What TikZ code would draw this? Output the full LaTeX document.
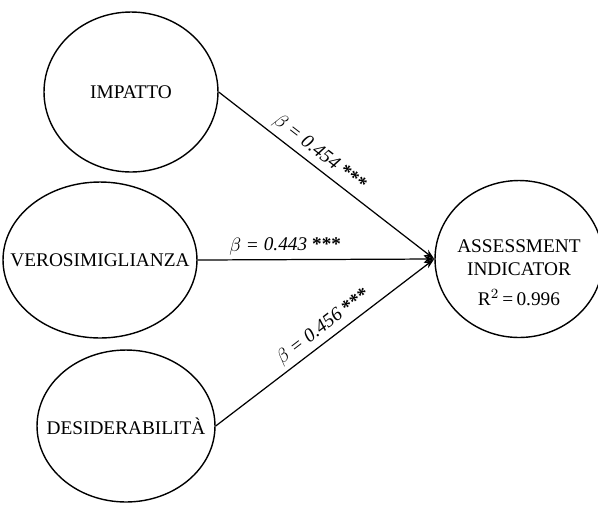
\documentclass[tikz,border=0pt]{standalone}
\usepackage{fontspec}
\setmainfont{Liberation Serif}
\usetikzlibrary{arrows.meta, positioning, shapes.geometric}

\newcommand{\nowidth}[1]{\makebox[0pt]{#1}}

\begin{document}
\begin{tikzpicture}[x=0.02cm, y=-0.02cm, font=\fontsize{11}{13}\selectfont,
      var/.style={draw, ellipse, line width=0.8pt, inner sep=0pt, align=center},
      link/.style={-{Stealth[length=6pt, width=4pt]}, line width=0.7pt},
      coef/.style={sloped, above, inner sep=2.5pt}]
  \useasboundingbox (0,0) rectangle (598,505);
  % latent variables
  \node[var, minimum width=3.48cm, minimum height=3.2cm] (imp) at (131,92) {\nowidth{IMPATTO}};
  \node[var, minimum width=3.88cm, minimum height=3.12cm] (vero) at (100,260) {\nowidth{VEROSIMIGLIANZA}};
  \node[var, minimum width=3.56cm, minimum height=3.04cm] (desid) at (126,426) {\nowidth{DESIDERABILITÀ}};
  \node[var, minimum width=3.36cm, minimum height=3.14cm] (assess) at (519,259)
       {\nowidth{\smash{\raisebox{-11.5pt}{\begin{tabular}{@{}c@{}}ASSESSMENT\\INDICATOR\\[4pt]R$^{2}$\,=\,0.996\end{tabular}}}}};

  % path coefficients
  \draw[link] (imp.east) -- node[coef, pos=0.43] {$\beta$ \textit{= 0.454} \textbf{***}} (assess.west);
  \draw[link] (vero.east) -- node[coef, pos=0.37] {$\beta$ \textit{= 0.443} \textbf{***}} (assess.west);
  \draw[link] (desid.east) -- node[coef, pos=0.53] {$\beta$ \textit{= 0.456} \textbf{***}} (assess.west);
\end{tikzpicture}
\end{document}
